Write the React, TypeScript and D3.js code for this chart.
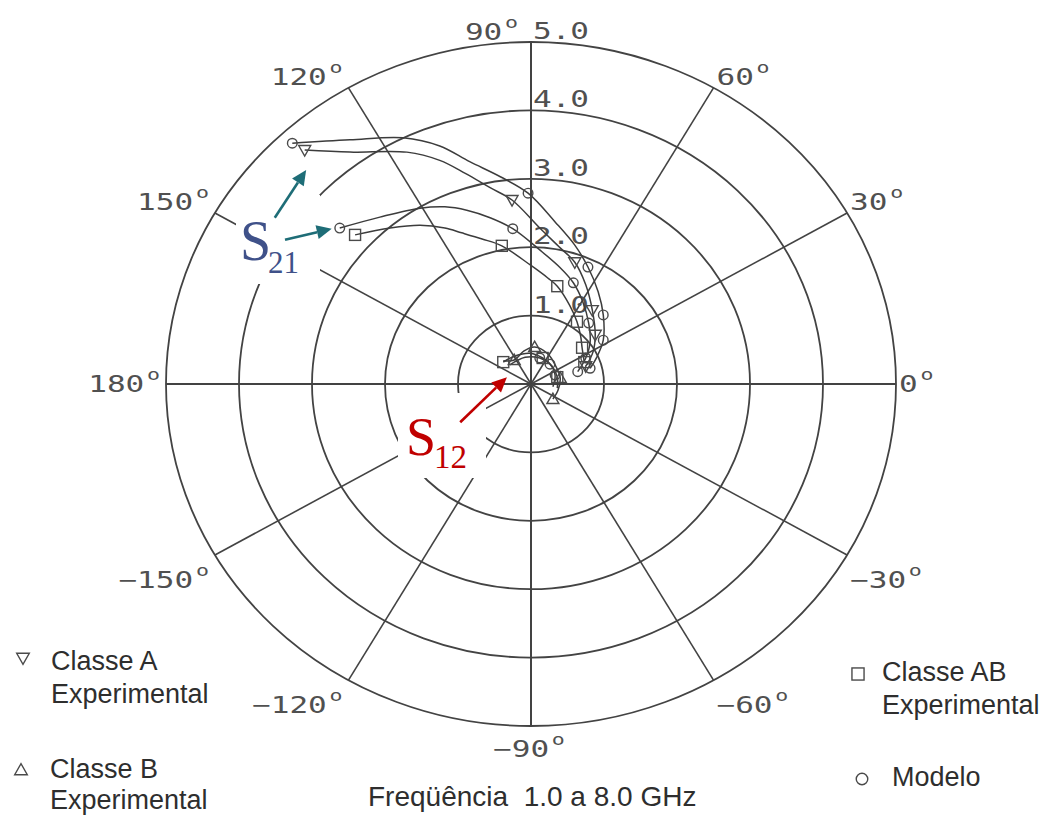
import React from 'react';
import * as d3 from 'd3';

// ---------- DATA (complex S-parameters as [real, imag]) ----------
const ringValues = [1, 2, 3, 4, 5];
const ringLabels = ['1.0', '2.0', '3.0', '4.0', '5.0'];
const spokeAngles = [0, 30, 60, 90, 120, 150, 180, -150, -120, -90, -60, -30];

// S21 – Classe A, modelo (circles)
const s21ModelA: number[][] = [
  [-3.27, 3.52], [-2.48, 3.57], [-1.75, 3.6], [-1.25, 3.48], [-0.84, 3.25], [-0.42, 3.03],
  [-0.04, 2.79], [0.33, 2.37], [0.6, 2.03], [0.78, 1.71], [0.92, 1.35], [0.99, 1.01],
  [0.99, 0.64], [0.9, 0.39], [0.81, 0.23],
];
const s21ModelAMarks = [0, 6, 9, 11, 12, 14];

// S21 – Classe A, experimental (down triangles)
const s21ExpA: number[][] = [
  [-3.1, 3.42], [-2.48, 3.39], [-1.7, 3.39], [-1.25, 3.27], [-0.9, 3.08], [-0.56, 2.87],
  [-0.26, 2.69], [0.12, 2.28], [0.4, 1.99], [0.6, 1.78], [0.75, 1.45], [0.84, 1.08],
  [0.88, 0.72], [0.85, 0.47], [0.75, 0.26],
];
const s21ExpAMarks = [0, 6, 9, 11, 12, 14];

// S21 – Classe AB, modelo (circles)
const s21ModelAB: number[][] = [
  [-2.62, 2.28], [-2.07, 2.44], [-1.52, 2.57], [-1.18, 2.59], [-0.88, 2.54], [-0.56, 2.43],
  [-0.25, 2.27], [0.12, 1.96], [0.4, 1.7], [0.58, 1.48], [0.71, 1.2], [0.79, 0.89],
  [0.81, 0.61], [0.75, 0.38], [0.64, 0.18],
];
const s21ModelABMarks = [0, 6, 9, 11, 13, 14];

// S21 – Classe AB, experimental (squares)
const s21ExpAB: number[][] = [
  [-2.41, 2.18], [-1.93, 2.28], [-1.52, 2.32], [-1.18, 2.28], [-0.95, 2.21], [-0.67, 2.12],
  [-0.4, 2.02], [-0.01, 1.74], [0.23, 1.55], [0.36, 1.43], [0.53, 1.15], [0.63, 0.91],
  [0.68, 0.7], [0.7, 0.53], [0.73, 0.32],
];
const s21ExpABMarks = [0, 6, 9, 11, 13, 14];

// S12 – Classe B, experimental (up triangles)
const s12ExpB: number[][] = [
  [-0.38, 0.34], [-0.23, 0.35], [-0.1, 0.48], [0.05, 0.54], [0.23, 0.44], [0.34, 0.26],
  [0.4, 0.09], [0.37, -0.09], [0.3, -0.22],
];
const s12ExpBMarks = [1, 3, 6, 8];

// S12 – Classe AB, experimental (squares)
const s12ExpAB: number[][] = [
  [-0.38, 0.32], [-0.22, 0.41], [-0.01, 0.45], [0.16, 0.38], [0.29, 0.26], [0.36, 0.1], [0.36, -0.06],
];
const s12ExpABMarks = [0, 3, 5];

// S12 – modelo (circles)
const s12Model: number[][] = [
  [-0.29, 0.28], [-0.08, 0.39], [0.12, 0.38], [0.26, 0.29], [0.33, 0.13], [0.3, -0.04],
];
const s12ModelMarks = [2, 3, 4];

// Annotation arrows (data units): [tail, tip]
const arrowS21a: number[][] = [[-3.51, 2.43], [-3.08, 3.13]];
const arrowS21b: number[][] = [[-3.37, 2.11], [-2.73, 2.27]];
const arrowS12: number[][] = [[-0.97, -0.56], [-0.33, 0.1]];

type Shape = 'circle' | 'down' | 'up' | 'square';
const series: { pts: number[][]; marks: number[]; shape: Shape }[] = [
  { pts: s21ModelA, marks: s21ModelAMarks, shape: 'circle' },
  { pts: s21ExpA, marks: s21ExpAMarks, shape: 'down' },
  { pts: s21ModelAB, marks: s21ModelABMarks, shape: 'circle' },
  { pts: s21ExpAB, marks: s21ExpABMarks, shape: 'square' },
  { pts: s12ExpB, marks: s12ExpBMarks, shape: 'up' },
  { pts: s12ExpAB, marks: s12ExpABMarks, shape: 'square' },
  { pts: s12Model, marks: s12ModelMarks, shape: 'circle' },
];

const GRID = '#434343';
const MARK = '#4a4a4a';

function Marker({ shape, cx, cy, k = 1 }: { shape: Shape; cx: number; cy: number; k?: number }) {
  const common = { fill: 'none', stroke: MARK, strokeWidth: 1.4 };
  if (shape === 'circle') return <circle cx={cx} cy={cy} r={4.8 * k} {...common} />;
  if (shape === 'square')
    return <rect x={cx - 5.5 * k} y={cy - 5.5 * k} width={11 * k} height={11 * k} {...common} />;
  if (shape === 'down')
    return (
      <path
        d={`M${cx - 6 * k},${cy - 4.5 * k}L${cx + 6 * k},${cy - 4.5 * k}L${cx},${cy + 6 * k}Z`}
        {...common}
      />
    );
  return (
    <path
      d={`M${cx - 6 * k},${cy + 4.5 * k}L${cx + 6 * k},${cy + 4.5 * k}L${cx},${cy - 6 * k}Z`}
      {...common}
    />
  );
}

export default function App() {
  const cx = 531, cy = 384, rx = 365, ry = 342;
  const x = d3.scaleLinear().domain([-5, 5]).range([cx - rx, cx + rx]);
  const y = d3.scaleLinear().domain([-5, 5]).range([cy + ry, cy - ry]);
  const line = d3
    .line<number[]>()
    .x((d) => x(d[0]))
    .y((d) => y(d[1]))
    .curve(d3.curveCatmullRom.alpha(0.5));

  const tickFont = { fontFamily: 'DejaVu Sans Mono', fontSize: 23, fill: '#505050' };

  const arrow = (a: number[][], color: string, key: string) => {
    const x1 = x(a[0][0]), y1 = y(a[0][1]), x2 = x(a[1][0]), y2 = y(a[1][1]);
    const ang = Math.atan2(y2 - y1, x2 - x1);
    const L = 15, Wd = 7;
    const bx = x2 - L * Math.cos(ang), by = y2 - L * Math.sin(ang);
    const px = -Math.sin(ang) * Wd, py = Math.cos(ang) * Wd;
    return (
      <g key={key}>
        <line x1={x1} y1={y1} x2={bx} y2={by} stroke={color} strokeWidth={2.6} />
        <path d={`M${x2},${y2}L${bx + px},${by + py}L${bx - px},${by - py}Z`} fill={color} />
      </g>
    );
  };

  return (
    <svg
      width={1046}
      height={816}
      style={{ position: 'absolute', left: 0, top: 0, background: '#fff' }}
    >
      <rect width={1046} height={816} fill="#fff" />
      {/* grid rings */}
      {ringValues.map((r) => (
        <ellipse
          key={r}
          cx={x(0)}
          cy={y(0)}
          rx={x(r) - x(0)}
          ry={y(0) - y(r)}
          fill="none"
          stroke={GRID}
          strokeWidth={1.8}
        />
      ))}
      {/* spokes */}
      {spokeAngles.map((a) => {
        const t = (a * Math.PI) / 180;
        return (
          <line
            key={a}
            x1={x(0)}
            y1={y(0)}
            x2={x(5 * Math.cos(t))}
            y2={y(5 * Math.sin(t))}
            stroke={GRID}
            strokeWidth={a % 90 === 0 ? 2 : 1.6}
          />
        );
      })}
      {/* white boxes behind annotation labels */}
      <rect x={236} y={195} width={84} height={89} fill="#fff" />
      <rect x={398} y={393} width={88} height={85} fill="#fff" />

      {/* radial value labels */}
      {ringValues.map((r, i) => (
        <text
          key={r}
          transform={`translate(${x(0) + 2},${y(r) - 3}) scale(1.35,1)`}
          {...tickFont}
        >
          {ringLabels[i]}
        </text>
      ))}
      {/* angle labels */}
      {spokeAngles.map((a) => {
        const t = (a * Math.PI) / 180;
        const c = Math.cos(t), s = Math.sin(t);
        const px = x(5 * c), py = y(5 * s);
        let anchor: 'start' | 'end' | 'middle' = c > 0.1 ? 'start' : c < -0.1 ? 'end' : 'middle';
        let dx = c > 0.1 ? 3 : c < -0.1 ? -6 : -2;
        let dy = s > 0.1 ? -3 : s < -0.1 ? 33 : 8;
        if (a === 90) { anchor = 'end'; dx = -13; dy = -2; }
        if (a === -90) { dy = 31; }
        const lab = a < 0 ? '\u2212' + Math.abs(a) : String(a);
        return (
          <text
            key={a}
            transform={`translate(${px + dx},${py + dy}) scale(1.35,1)`}
            textAnchor={anchor}
            {...tickFont}
          >
            {lab}
            <tspan dx={2} dy={-12} fontSize={16}>o</tspan>
          </text>
        );
      })}

      {/* data lines */}
      {series.map((s, i) => (
        <path key={i} d={line(s.pts) || ''} fill="none" stroke="#3c3c3c" strokeWidth={1.5} />
      ))}
      {/* data markers */}
      {series.map((s, i) =>
        s.marks.map((m) => (
          <Marker key={`${i}-${m}`} shape={s.shape} cx={x(s.pts[m][0])} cy={y(s.pts[m][1])} />
        ))
      )}

      {/* annotations */}
      <text x={240} y={260} fontFamily="Liberation Serif" fontSize={56} fill="#3f5189">S</text>
      <text x={268} y={273} fontFamily="Liberation Serif" fontSize={31} fill="#3f5189">21</text>
      <text x={406} y={455} fontFamily="Liberation Serif" fontSize={54} fill="#c00000">S</text>
      <text x={434} y={468} fontFamily="Liberation Serif" fontSize={33} fill="#c00000">12</text>
      {arrow(arrowS21a, '#1e6d77', 'a1')}
      {arrow(arrowS21b, '#1e6d77', 'a2')}
      {arrow(arrowS12, '#c00000', 'a3')}

      {/* legend */}
      <g fontFamily="Liberation Sans, Arial" fontSize={27} fill="#2e2e2e">
        <text x={51} y={670}>Classe A</text>
        <text x={51} y={703}>Experimental</text>
        <text x={50} y={778}>Classe B</text>
        <text x={50} y={809}>Experimental</text>
        <text x={882} y={681}>Classe AB</text>
        <text x={882} y={714}>Experimental</text>
        <text x={892} y={786}>Modelo</text>
        <text x={368} y={806} fontSize={28} xmlSpace="preserve" style={{ whiteSpace: 'pre' }}>
          {'Freqüência  1.0 a 8.0 GHz'}
        </text>
      </g>
      <Marker shape="down" cx={23} cy={658} k={1.05} />
      <Marker shape="up" cx={21} cy={770} k={1.05} />
      <Marker shape="square" cx={858} cy={674} k={1.1} />
      <Marker shape="circle" cx={862} cy={779} k={1.2} />
    </svg>
  );
}
